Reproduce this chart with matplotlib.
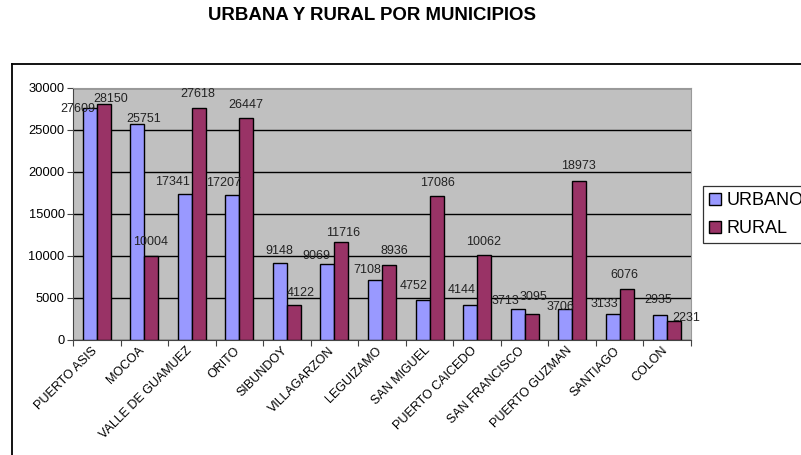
import numpy as np
import matplotlib.pyplot as plt
from matplotlib.lines import Line2D
from matplotlib.transforms import ScaledTranslation

plt.rcParams['font.family'] = ['Liberation Sans', 'DejaVu Sans']

municipios = ["PUERTO ASIS", "MOCOA", "VALLE DE GUAMUEZ", "ORITO", "SIBUNDOY",
              "VILLAGARZON", "LEGUIZAMO", "SAN MIGUEL", "PUERTO CAICEDO",
              "SAN FRANCISCO", "PUERTO GUZMAN", "SANTIAGO", "COLON"]
urbano = [27609, 25751, 17341, 17207, 9148, 9069, 7108, 4752, 4144, 3713, 3706, 3133, 2935]
rural = [28150, 10004, 27618, 26447, 4122, 11716, 8936, 17086, 10062, 3095, 18973, 6076, 2231]
y_ticks = [0, 5000, 10000, 15000, 20000, 25000, 30000]

# label nudges (pixels) as the labels sit in the picture: (dx, gap above bar top)
nudge_urbano = [(-12, -4), (6, 2), (-12, 9), (-9, 9), (-1, 9), (-11, 5), (-8, 7),
                (-9, 11), (-8, 12), (-12, 5), (-5, -1), (-8, 7), (-2, 12)]
nudge_rural = [(7, 2), (-1, 11), (-1, 11), (-1, 10), (7, 9), (2, 6), (5, 11),
               (1, 10), (-1, 10), (2, 14), (-1, 12), (-2, 11), (12, 0)]

W, H = 801, 455
fig = plt.figure(figsize=(W / 100, H / 100), dpi=100)
ax = fig.add_axes([73 / W, 1 - 340 / H, (691 - 73) / W, (340 - 88) / H])

x = np.arange(len(municipios))
bw = 0.295
b1 = ax.bar(x - bw / 2, urbano, bw, color="#9999FF", edgecolor="black", linewidth=1.0,
            label="URBANO", zorder=3)
b2 = ax.bar(x + bw / 2, rural, bw, color="#993366", edgecolor="black", linewidth=1.0,
            label="RURAL", zorder=3)

for bars, vals, nudges in ((b1, urbano, nudge_urbano), (b2, rural, nudge_rural)):
    for r, v, (dx, dy) in zip(bars, vals, nudges):
        ax.annotate(str(v), (r.get_x() + r.get_width() / 2, v), xytext=(dx, dy),
                    textcoords="offset pixels", ha="center", va="baseline",
                    fontsize=9, color="#222222", zorder=4, annotation_clip=False)

ax.set_facecolor("#C0C0C0")
ax.set_xlim(-0.5, len(municipios) - 0.5)
ax.set_ylim(0, 30000)
ax.set_yticks(y_ticks)
ax.set_yticklabels([str(t) for t in y_ticks], fontsize=9.3)
ax.yaxis.grid(True, color="black", linewidth=1.0, zorder=1)
ax.set_axisbelow(True)

ax.set_xticks(np.arange(len(municipios) + 1) - 0.5)
ax.set_xticklabels([])
ax.set_xticks(x, minor=True)
ax.set_xticklabels(municipios, minor=True, rotation=45, ha="right", rotation_mode="anchor",
                   fontsize=9)
ax.tick_params(axis="x", which="minor", length=0, pad=4)
ax.tick_params(axis="x", which="major", length=4, direction="out", color="#444444")
ax.tick_params(axis="y", length=4, direction="out", color="#444444", pad=2)
shift = ScaledTranslation(-6 / 100, 1 / 100, fig.dpi_scale_trans)
for lbl in ax.get_xticklabels(minor=True):
    lbl.set_transform(lbl.get_transform() + shift)

ax.spines["left"].set_color("#444444")
ax.spines["bottom"].set_color("#444444")
ax.spines["top"].set_color("#999999")
ax.spines["right"].set_color("#999999")

fig.text(372 / W, 1 - 16 / H, "URBANA Y RURAL POR MUNICIPIOS", ha="center", va="center",
         fontsize=13.4, fontweight="bold")

# outer chart border (runs off the right/bottom edges)
fig.add_artist(Line2D([12 / W, 1.01], [1 - 64 / H, 1 - 64 / H], color="black", linewidth=1.3))
fig.add_artist(Line2D([12 / W, 12 / W], [1 - 64 / H, -0.01], color="black", linewidth=1.3))

leg = fig.legend(handles=[b1, b2], loc="upper left", bbox_to_anchor=(703 / W, 1 - 186 / H),
                 fontsize=13, frameon=True, fancybox=False, edgecolor="black",
                 handlelength=0.62, handleheight=0.62, handletextpad=0.35, borderpad=0.35,
                 labelspacing=0.6, borderaxespad=0)
leg.get_frame().set_linewidth(0.9)

fig.savefig("out.png", dpi=100)
